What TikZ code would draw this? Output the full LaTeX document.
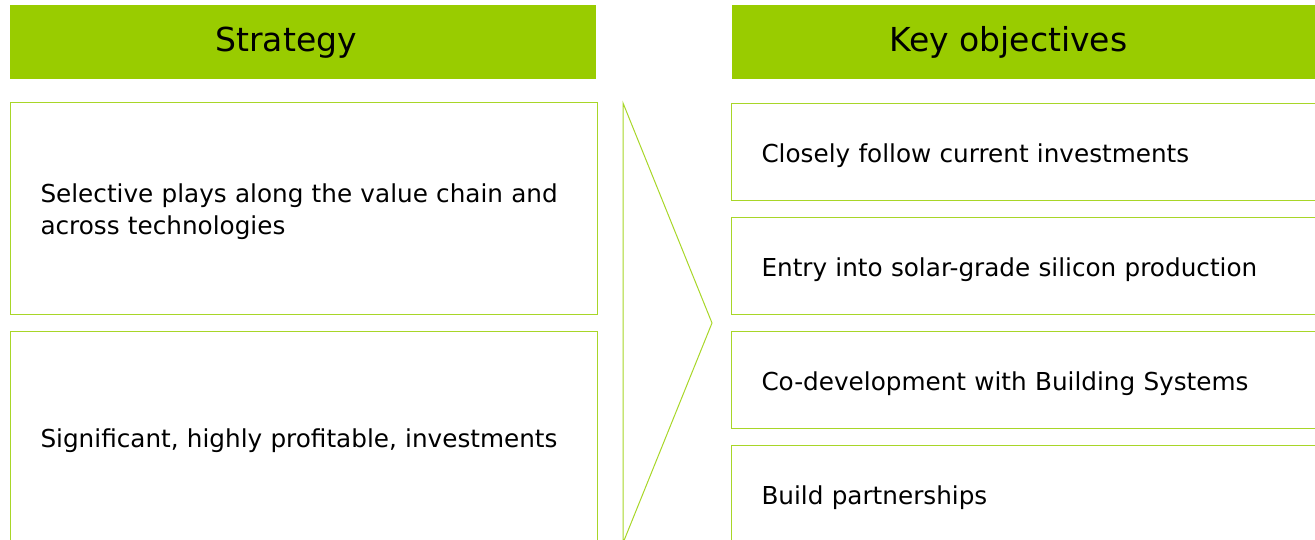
\documentclass[tikz,border=0pt]{standalone}
\usepackage{fontspec}
\setmainfont{DejaVu Sans}
\usetikzlibrary{positioning}
\definecolor{limegreen}{RGB}{153,204,0}
\definecolor{edgegreen}{RGB}{168,214,40}

\begin{document}
\begin{tikzpicture}[x=1pt,y=-1pt,
  head/.style={fill=limegreen, minimum width=586pt, minimum height=74pt,
    inner sep=0pt, anchor=north west},
  headtext/.style={font=\fontsize{33}{40}\selectfont, xshift=-17pt},
  item/.style={draw=edgegreen, line width=1pt, align=left, inner xsep=30pt,
    inner ysep=0pt, font=\fontsize{24.7}{32}\selectfont,
    execute at begin node={\rule{0pt}{26pt}}},
  leftitem/.style={item, text width=527pt, minimum height=212pt},
  rightitem/.style={item, text width=540pt, minimum height=97pt}]

\useasboundingbox (0,0) rectangle (1315,540);

% Titelbalken
\node[head, label={[headtext]center:Strategy}] (strategyHead) at (10,5) {};
\node[head, label={[headtext]center:Key objectives}] (objectivesHead) at (732,5) {};

% Strategie links
\node[leftitem, anchor=north west] (strategyA) at (10,102)
  {Selective plays along the value chain and\\across technologies};
\node[leftitem, below=16pt of strategyA] (strategyB)
  {Significant, highly profitable, investments};

% Pfeil
\draw[edgegreen, line width=1pt] (623,103) -- (712,323) -- (623,543) -- cycle;

% Ziele rechts
\node[rightitem, anchor=north west] (objectiveA) at (731,103)
  {Closely follow current investments};
\node[rightitem, below=16pt of objectiveA] (objectiveB)
  {Entry into solar-grade silicon production};
\node[rightitem, below=16pt of objectiveB] (objectiveC)
  {Co-development with Building Systems};
\node[rightitem, below=16pt of objectiveC] (objectiveD)
  {Build partnerships};

\end{tikzpicture}
\end{document}
